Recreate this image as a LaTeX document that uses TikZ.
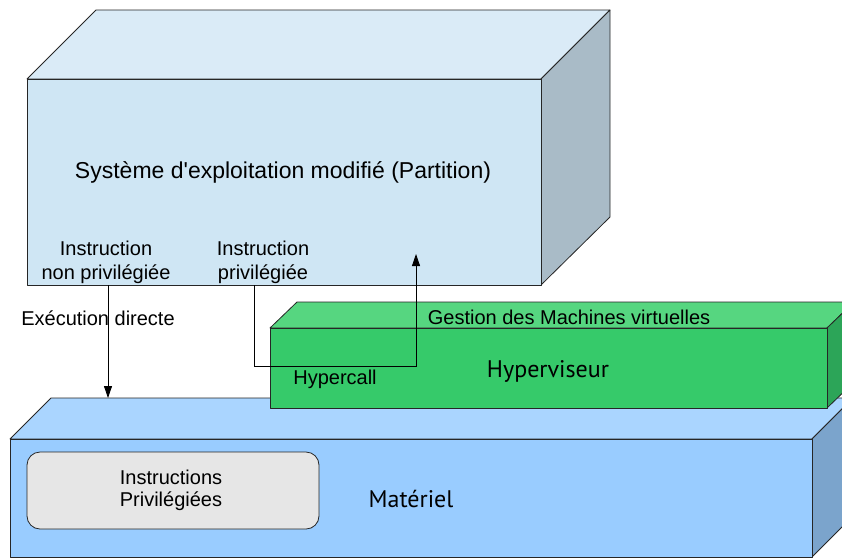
\documentclass[tikz,border=0pt]{standalone}
\usepackage{fontspec}
\setmainfont{Liberation Sans}
\newfontfamily\plainfont{Liberation Sans}
\newfontfamily\humfont{PT Sans}
\usetikzlibrary{arrows.meta}
\definecolor{osfront}{HTML}{CFE6F4}
\definecolor{ostop}{HTML}{DAEBF7}
\definecolor{osside}{HTML}{A9BBC7}
\definecolor{hypfront}{HTML}{36CA6A}
\definecolor{hyptop}{HTML}{56D680}
\definecolor{hypside}{HTML}{2CA558}
\definecolor{hwfront}{HTML}{99CCFF}
\definecolor{hwtop}{HTML}{AAD5FF}
\definecolor{hwside}{HTML}{7BA4CC}
\definecolor{instfill}{HTML}{E6E6E6}
\begin{document}
\begin{tikzpicture}[x=1pt,y=-1pt,
	face/.style={draw=black!85,line width=.8pt,line join=round},
	lbl/.style={font=\fontsize{20}{24}\selectfont,align=center,inner sep=0pt},
	biglbl/.style={font=\humfont\fontsize{24}{28}\selectfont,inner sep=0pt,anchor=base},
	arrow/.style={line width=.8pt,-{Triangle[length=12pt,width=8pt]}}]
	\useasboundingbox (0,0) rectangle (842,558);

	% materiel
	\draw[face,fill=hwtop] (10,439) -- (51,398) -- (853,398) -- (812,439) -- cycle;
	\draw[face,fill=hwside] (812,439) -- (853,398) -- (853,516) -- (812,557) -- cycle;
	\draw[face,fill=hwfront] (10,439) rectangle (812,557);
	\draw[face,fill=instfill,rounded corners=13pt] (27,452) rectangle (319,529);

	% hyperviseur
	\draw[face,fill=hyptop] (270,328) -- (297,302) -- (854,302) -- (827,328) -- cycle;
	\draw[face,fill=hypside] (827,328) -- (854,302) -- (854,382) -- (827,408) -- cycle;
	\draw[face,fill=hypfront] (270,328) rectangle (827,408);

	% systeme
	\draw[face,fill=ostop] (27,79) -- (96,10) -- (610,10) -- (541,79) -- cycle;
	\draw[face,fill=osside] (541,79) -- (610,10) -- (610,217) -- (541,285) -- cycle;
	\draw[face,fill=osfront] (27,79) rectangle (541,285);

	\node[lbl,anchor=base,font=\plainfont\fontsize{23}{27}\selectfont] (os) at (283,178) {Système d'exploitation modifié (Partition)};
	\node[lbl] (np) at (106,262) {Instruction\\non privilégiée};
	\node[lbl] (pr) at (263,262) {Instruction\\privilégiée};
	\node[lbl,anchor=base] (ex) at (98,325) {Exécution directe};
	\node[lbl,anchor=base] (gm) at (569,324) {Gestion des Machines virtuelles};
	\node[lbl,anchor=base] (hc) at (335,384) {Hypercall};
	\node[biglbl] (hv) at (548,377) {Hyperviseur};
	\node[biglbl] (mt) at (411,507) {Matériel};
	\node[lbl,font=\fontsize{20}{22}\selectfont] (ip) at (171,490) {Instructions\\Privilégiées};

	\coordinate (d1) at (108,285);
	\coordinate (d2) at (108,398);
	\coordinate (h1) at (254,285);
	\coordinate (h2) at (416,366);
	\coordinate (h3) at (416,254);

	\draw[arrow] (d1) -- (d2);
	\draw[arrow,line join=miter] (h1) |- (h2) -- (h3);
\end{tikzpicture}
\end{document}
